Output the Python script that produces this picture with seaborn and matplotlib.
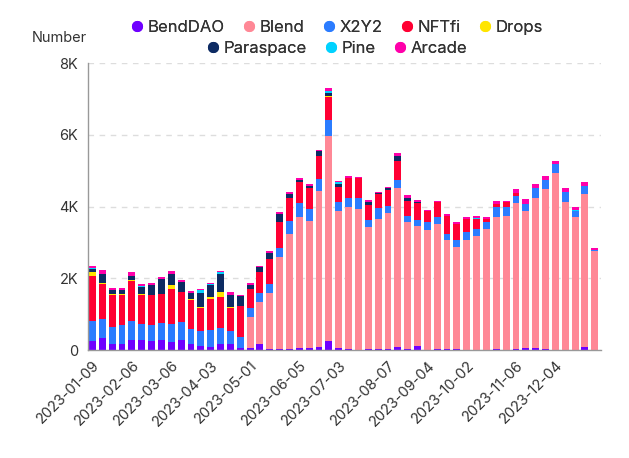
import pandas as pd
import matplotlib
matplotlib.use("Agg")
import matplotlib.pyplot as plt
from matplotlib.lines import Line2D
import seaborn as sns

# weekly buckets, 2023-01-09 .. 2024-01-01
weeks = pd.date_range("2023-01-09", periods=52, freq="7D").strftime("%Y-%m-%d").tolist()
tick_labels = ["2023-01-09", "2023-02-06", "2023-03-06", "2023-04-03", "2023-05-01",
               "2023-06-05", "2023-07-03", "2023-08-07", "2023-09-04", "2023-10-02",
               "2023-11-06", "2023-12-04"]

benddao = [250, 333, 167, 167, 278, 278, 250, 278, 222, 278, 167, 111, 83, 167, 167, 56,
           56, 167, 28, 28, 20, 46, 65, 83, 250, 56, 28, 10, 28, 28, 28, 83,
           28, 111, 10, 28, 28, 28, 10, 10, 10, 28, 10, 28, 56, 56, 28, 10,
           10, 10, 83, 5]
blend = [0, 0, 0, 0, 0, 0, 0, 0, 0, 0, 0, 0, 0, 0, 0, 0,
         861, 1176, 1565, 2565, 3202, 3649, 3519, 4362, 5723, 3805, 3954, 3907, 3389, 3611, 3778, 4427,
         3528, 3343, 3324, 3491, 3028, 2833, 3046, 3157, 3351, 3667, 3712, 4056, 3805, 4194, 4472, 4935,
         4129, 3685, 4278, 2754]
x2y2 = [555, 528, 472, 527, 527, 444, 444, 472, 500, 509, 416, 417, 482, 444, 361, 305,
        259, 250, 250, 250, 362, 416, 333, 333, 426, 278, 268, 333, 213, 315, 204, 240,
        166, 167, 231, 176, 166, 195, 222, 194, 195, 278, 278, 222, 204, 260, 250, 250,
        278, 166, 223, 38]
nftfi = [1250, 982, 898, 843, 1121, 815, 834, 815, 982, 833, 806, 639, 861, 870, 648, 870,
         518, 583, 685, 722, 648, 584, 593, 639, 657, 417, 537, 537, 426, 389, 463, 528,
         445, 463, 306, 417, 519, 463, 370, 287, 92, 101, 121, 70, 0, 0, 0, 0,
         0, 0, 0, 0]
drops = [110, 27, 18, 28, 27, 28, 0, 0, 102, 0, 46, 27, 46, 130, 28, 0,
         0, 0, 0, 0, 0, 0, 0, 0, 18, 0, 0, 0, 0, 0, 0, 0,
         0, 0, 0, 0, 0, 0, 0, 0, 0, 0, 0, 0, 0, 0, 0, 0,
         0, 0, 0, 0]
paraspace = [85, 250, 121, 111, 121, 185, 287, 407, 314, 269, 148, 408, 343, 509, 333, 278,
             121, 139, 176, 232, 120, 55, 64, 120, 93, 74, 0, 0, 65, 37, 46, 120,
             65, 37, 0, 0, 0, 0, 0, 0, 0, 0, 0, 0, 0, 0, 0, 0,
             0, 0, 0, 0]
pine = [45, 0, 0, 0, 0, 28, 0, 0, 0, 0, 0, 65, 28, 47, 0, 0,
        0, 0, 0, 0, 0, 0, 0, 0, 56, 46, 0, 0, 0, 0, 0, 0,
        0, 0, 0, 0, 0, 0, 0, 28, 0, 0, 0, 0, 0, 0, 0, 0,
        0, 28, 0, 0]
arcade = [40, 100, 64, 64, 93, 74, 55, 56, 74, 65, 74, 46, 37, 46, 83, 19,
          55, 28, 56, 46, 46, 47, 47, 47, 74, 47, 56, 47, 65, 37, 37, 84,
          83, 65, 37, 46, 46, 55, 56, 46, 65, 74, 46, 100, 140, 120, 102, 83,
          102, 93, 102, 37]

platforms = ["BendDAO", "Blend", "X2Y2", "NFTfi", "Drops", "Paraspace", "Pine", "Arcade"]
colors = ["#6F00FF", "#FF8896", "#2B7CFF", "#FF0033", "#FFE500", "#0D2B63", "#00D2FF", "#FF00AA"]

df = pd.DataFrame({"week": weeks, "BendDAO": benddao, "Blend": blend, "X2Y2": x2y2,
                   "NFTfi": nftfi, "Drops": drops, "Paraspace": paraspace,
                   "Pine": pine, "Arcade": arcade})
cum = df[platforms].cumsum(axis=1)

sns.set_theme(style="white")
plt.rcParams["font.family"] = ["Inter", "DejaVu Sans"]
text_col = "#333333"

fig = plt.figure(figsize=(6.29, 4.58), dpi=100)
ax = fig.add_axes([0.140, 0.2358, 0.815, 0.6266])

# draw cumulative layers from top to bottom so each covers the one above
for name, col in reversed(list(zip(platforms, colors))):
    sns.barplot(x=df["week"], y=cum[name], color=col, width=0.7,
                saturation=1, linewidth=0, ax=ax)

ax.set_ylim(0, 8000)
ax.set_xlim(-0.45, 51.6)
ax.set_yticks([0, 2000, 4000, 6000, 8000])
ax.set_yticklabels(["0", "2K", "4K", "6K", "8K"])
pos = [weeks.index(t) for t in tick_labels]
ax.set_xticks(pos)
ax.set_xticklabels(tick_labels, rotation=45, ha="right", rotation_mode="anchor")
ax.set_xlabel("")
ax.set_ylabel("")
ax.tick_params(axis="y", length=4, color="#999999", labelsize=10.5, labelcolor=text_col, pad=3)
ax.tick_params(axis="x", length=0, labelsize=10.5, labelcolor=text_col, pad=6)
ax.yaxis.grid(True, linestyle=(0, (4, 4)), color="#dddddd", linewidth=1)
ax.set_axisbelow(True)
for s in ["top", "right"]:
    ax.spines[s].set_visible(False)
for s in ["left", "bottom"]:
    ax.spines[s].set_color("#999999")
    ax.spines[s].set_linewidth(1)

fig.text(0.051, 0.908, "Number", fontsize=10.5, color=text_col)

def handles(names):
    return [Line2D([], [], marker="o", linestyle="", markersize=8,
                   markerfacecolor=colors[platforms.index(n)], markeredgewidth=0, label=n)
            for n in names]

row1 = ["BendDAO", "Blend", "X2Y2", "NFTfi", "Drops"]
row2 = ["Paraspace", "Pine", "Arcade"]
for names, y in [(row1, 0.941), (row2, 0.894)]:
    leg = fig.legend(handles=handles(names), loc="center", bbox_to_anchor=(0.534, y),
                     ncol=len(names), frameon=False, fontsize=12, handletextpad=0.1,
                     columnspacing=1.0, handlelength=1.0, borderpad=0)
    for t in leg.get_texts():
        t.set_color(text_col)
    fig.add_artist(leg)

fig.savefig("out.png", dpi=100)
